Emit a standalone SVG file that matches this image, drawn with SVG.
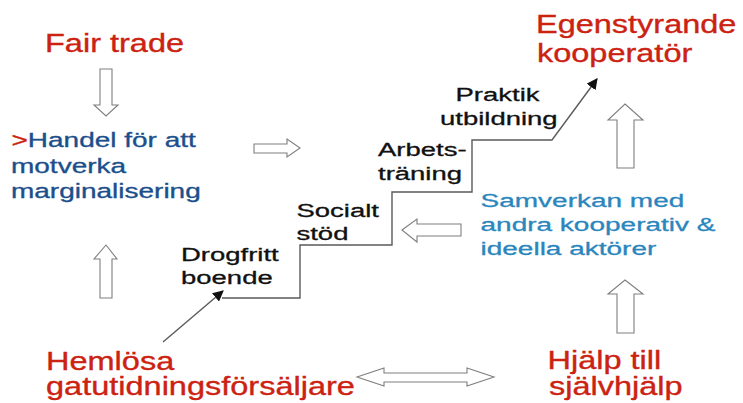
<svg xmlns="http://www.w3.org/2000/svg" width="743" height="403" viewBox="0 0 743 403">
<defs>
<style>
text{font-family:"Liberation Sans",Arial,sans-serif;stroke-width:0.45;}
.red{fill:#cc2211;stroke:#cc2211;font-size:32.5px;}
.dblue{fill:#1b4f8c;stroke:#1b4f8c;font-size:28px;}
.lblue{fill:#2a86bd;stroke:#2a86bd;font-size:28px;}
.blk{fill:#111111;stroke:#111111;font-size:27.5px;}
.barrow{fill:#ffffff;stroke:#7f7f7f;stroke-width:1.1;stroke-linejoin:miter;}
.line{fill:none;stroke:#5a5a5a;stroke-width:1.4;}
</style>
<marker id="ah" viewBox="0 0 10 10" refX="9" refY="5" markerWidth="11" markerHeight="11" markerUnits="userSpaceOnUse" orient="auto">
<path d="M0,0 L10,5 L0,10 Z" fill="#111111"/>
</marker>
</defs>
<rect width="743" height="403" fill="#ffffff"/>

<g id="fair-trade">
<text class="red" transform="translate(45,52) scale(1,0.77)">Fair trade</text>
</g>
<g id="handel">
<text class="dblue" transform="translate(11.5,147) scale(1,0.71)"><tspan fill="#cc2211" stroke="#cc2211">&gt;</tspan>Handel för att</text>
<text class="dblue" transform="translate(11,173) scale(1,0.71)">motverka</text>
<text class="dblue" transform="translate(11,198) scale(1,0.71)">marginalisering</text>
</g>
<g id="egenstyrande">
<text class="red" transform="translate(536,33) scale(1,0.79)">Egenstyrande</text>
<text class="red" transform="translate(537,62) scale(1,0.79)">kooperatör</text>
</g>
<g id="samverkan">
<text class="lblue" transform="translate(480.5,207) scale(1,0.68)">Samverkan med</text>
<text class="lblue" transform="translate(480.5,231) scale(1,0.68)">andra kooperativ &amp;</text>
<text class="lblue" transform="translate(480.5,255) scale(1,0.68)">ideella aktörer</text>
</g>
<g id="hemlosa">
<text class="red" transform="translate(46,370) scale(1,0.77)">Hemlösa</text>
<text class="red" transform="translate(46,395) scale(1,0.77)">gatutidningsförsäljare</text>
</g>
<g id="hjalp">
<text class="red" transform="translate(547.5,369) scale(1,0.77)">Hjälp till</text>
<text class="red" transform="translate(549,395) scale(1,0.77)">självhjälp</text>
</g>
<g id="drogfritt">
<text class="blk" transform="translate(181,260.5) scale(1,0.7)">Drogfritt</text>
<text class="blk" transform="translate(181,283.5) scale(1,0.7)">boende</text>
</g>
<g id="socialt">
<text class="blk" transform="translate(296.5,216.5) scale(1,0.7)">Socialt</text>
<text class="blk" transform="translate(296.5,240) scale(1,0.7)">stöd</text>
</g>
<g id="arbets">
<text class="blk" transform="translate(378,156) scale(1,0.7)">Arbets-</text>
<text class="blk" transform="translate(378,180) scale(1,0.7)">träning</text>
</g>
<g id="praktik">
<text class="blk" transform="translate(455.5,101) scale(1,0.7)">Praktik</text>
<text class="blk" transform="translate(440,125) scale(1,0.7)">utbildning</text>
</g>

<g id="connectors">
<polygon class="barrow" points="100,69 112,69 112,105 118,105 106,116 94,105 100,105"/>
<polygon class="barrow" points="254,144 287,144 287,139 300,148 287,157 287,153 254,153"/>
<polygon class="barrow" points="106,245 117,259 112,259 112,298 100,298 100,259 94,259"/>
<polygon class="barrow" points="402,230 417,219 417,224 461,224 461,236 417,236 417,242"/>
<polygon class="barrow" points="625,104 643,120 634,120 634,168 617,168 617,120 608,120"/>
<polygon class="barrow" points="625,280 643,294 634,294 634,333 617,333 617,294 608,294"/>
<polygon class="barrow" points="357,377 384,368 384,373 467,373 467,368 494,377 467,386 467,382 384,382 384,386"/>
<path class="line" d="M222,298 H300 V245 H392 V192 H472 V140 H552 L597,79" marker-end="url(#ah)"/>
<path class="line" d="M163,342 L223,291" marker-end="url(#ah)"/>
</g>
</svg>
